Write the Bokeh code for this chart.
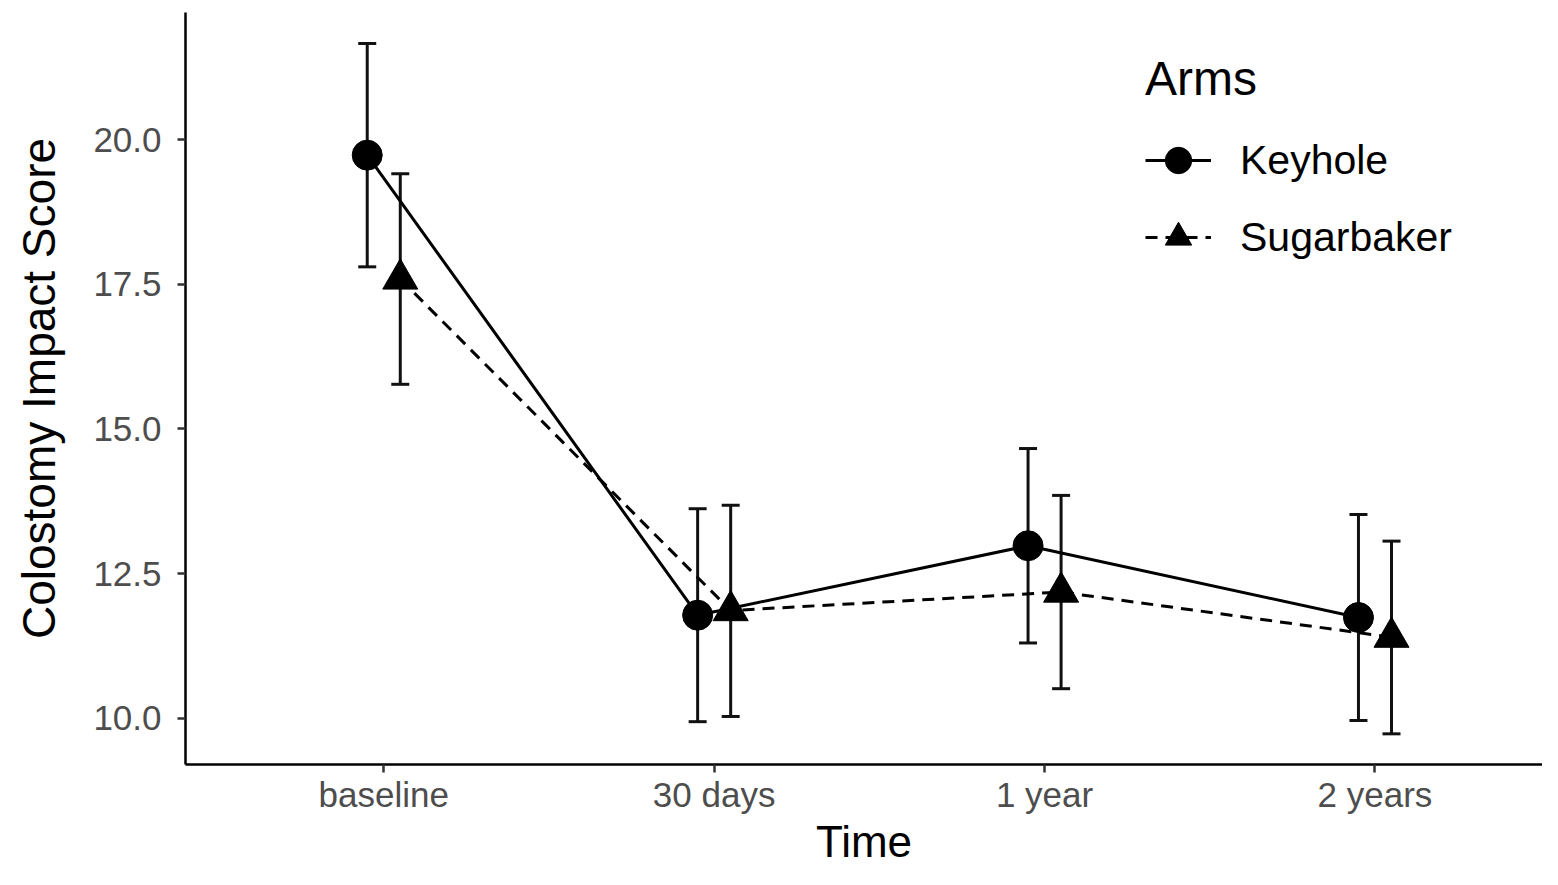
from bokeh.plotting import figure
from bokeh.models import (ColumnDataSource, Whisker, TeeHead, FixedTicker,
                          PrintfTickFormatter, Legend, LegendItem, Range1d)
from bokeh.embed import file_html
from bokeh.resources import INLINE

# ---- data ----
times = ["baseline", "30 days", "1 year", "2 years"]
arms = ["Keyhole", "Sugarbaker"]
keyhole_mean = [19.73, 11.78, 12.98, 11.74]
keyhole_lower = [17.80, 9.94, 11.30, 9.96]
keyhole_upper = [21.66, 13.62, 14.66, 13.52]
sugar_mean = [17.59, 11.86, 12.18, 11.40]
sugar_lower = [15.77, 10.03, 10.51, 9.73]
sugar_upper = [19.41, 13.68, 13.85, 13.06]
y_ticks = [10.0, 12.5, 15.0, 17.5, 20.0]

dodge = 0.05
FONT = "Liberation Sans"

idx = list(range(len(times)))
src_k = ColumnDataSource(dict(x=[i - dodge for i in idx], y=keyhole_mean,
                              lower=keyhole_lower, upper=keyhole_upper))
src_s = ColumnDataSource(dict(x=[i + dodge for i in idx], y=sugar_mean,
                              lower=sugar_lower, upper=sugar_upper))

p = figure(width=1542, height=869,
           x_range=Range1d(-0.6, 3.507), y_range=Range1d(9.200, 22.195),
           output_backend="svg", toolbar_location=None,
           min_border_left=185, min_border_right=0, min_border_top=12,
           min_border_bottom=105)
p.outline_line_color = None
p.xgrid.visible = False
p.ygrid.visible = False
p.background_fill_color = "white"
p.border_fill_color = "white"

# lines
l_k = p.line("x", "y", source=src_k, line_color="black", line_width=3)
l_s = p.line("x", "y", source=src_s, line_color="black", line_width=3,
             line_dash="12 8")

# error bars
for src in (src_k, src_s):
    w = Whisker(source=src, base="x", upper="upper", lower="lower",
                line_color="#111111", line_width=3,
                upper_head=TeeHead(size=18, line_width=3, line_color="#111111"),
                lower_head=TeeHead(size=18, line_width=3, line_color="#111111"))
    p.add_layout(w)

# points
s_k = p.scatter("x", "y", source=src_k, marker="circle", size=30,
                fill_color="black", line_color="black")
s_s = p.scatter("x", "y", source=src_s, marker="triangle", size=35,
                fill_color="black", line_color="black")

# axes
for ax in (p.xaxis[0], p.yaxis[0]):
    ax.axis_line_color = "black"
    ax.axis_line_width = 2.5
    ax.major_tick_line_color = "#333333"
    ax.major_tick_line_width = 2.5
    ax.major_tick_out = 8
    ax.major_tick_in = 0
    ax.minor_tick_line_color = None
    ax.major_label_text_font = FONT
    ax.major_label_text_font_size = "35px"
    ax.major_label_text_color = "#4D4D4D"
    ax.axis_label_text_font = FONT
    ax.axis_label_text_font_style = "normal"
    ax.axis_label_text_color = "black"

p.xaxis.ticker = FixedTicker(ticks=idx)
p.xaxis.major_label_overrides = {i: t for i, t in enumerate(times)}
p.xaxis.major_label_standoff = 2
p.xaxis.axis_label = "Time"
p.xaxis.axis_label_text_font_size = "44px"
p.xaxis.axis_label_standoff = 0

p.yaxis.ticker = FixedTicker(ticks=y_ticks)
p.yaxis.formatter = PrintfTickFormatter(format="%.1f")
p.yaxis.major_label_standoff = 16
p.yaxis.axis_label = "Colostomy Impact Score"
p.yaxis.axis_label_text_font_size = "46px"
p.yaxis.axis_label_standoff = 25

legend = Legend(items=[LegendItem(label=arms[0], renderers=[l_k, s_k]),
                       LegendItem(label=arms[1], renderers=[l_s, s_s])],
                location=(960, 493), title="Arms",
                title_text_font=FONT, title_text_font_size="48px",
                title_text_font_style="normal", title_text_color="black",
                title_standoff=20,
                label_text_font=FONT, label_text_font_size="41px",
                label_text_color="black",
                glyph_width=66, glyph_height=68, label_standoff=29,
                spacing=9, padding=0, margin=0,
                border_line_color=None, background_fill_alpha=0)
p.add_layout(legend)

open("out.html", "w").write(file_html(p, INLINE))
